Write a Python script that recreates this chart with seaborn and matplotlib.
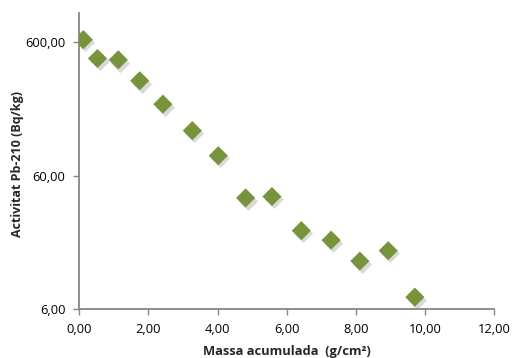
import matplotlib
matplotlib.use("Agg")
import matplotlib.pyplot as plt
import matplotlib.transforms as mtransforms
import seaborn as sns
import pandas as pd

# Data
massa = [0.12, 0.53, 1.13, 1.75, 2.42, 3.27, 4.02, 4.81, 5.57, 6.42, 7.28, 8.11, 8.93, 9.70]
activitat = [630, 455, 445, 310, 207, 131, 85, 41, 42, 23.3, 19.8, 13.8, 16.5, 7.4]

x_ticks = [0, 2, 4, 6, 8, 10, 12]
x_labels = ["0,00", "2,00", "4,00", "6,00", "8,00", "10,00", "12,00"]
y_ticks = [6, 60, 600]
y_labels = ["6,00", "60,00", "600,00"]

df = pd.DataFrame({"massa": massa, "activitat": activitat})

sns.set_style("white")
plt.rcParams["font.family"] = ["Open Sans", "DejaVu Sans"]

fig = plt.figure(figsize=(5.14, 3.58), dpi=100)
ax = fig.add_axes([0.154, 0.136, 0.808, 0.828])

green = "#77933C"
# soft shadow
shadow = mtransforms.offset_copy(ax.transData, fig=fig, x=1.5, y=-2, units="points")
ax.scatter(df["massa"], df["activitat"], marker="D", s=95, color="#555555",
           alpha=0.22, linewidths=0, transform=shadow, zorder=2)
sns.scatterplot(data=df, x="massa", y="activitat", marker="D", s=95,
                color=green, edgecolor="none", linewidth=0, ax=ax, zorder=3)

ax.set_yscale("log")
ax.set_xlim(0, 12)
ax.set_ylim(6, 1000)
ax.set_xticks(x_ticks)
ax.set_xticklabels(x_labels)
ax.set_yticks(y_ticks)
ax.set_yticklabels(y_labels)
ax.yaxis.set_minor_locator(matplotlib.ticker.NullLocator())

for s in ["top", "right"]:
    ax.spines[s].set_visible(False)
for s in ["left", "bottom"]:
    ax.spines[s].set_color("#868686")
    ax.spines[s].set_linewidth(1.3)

ax.tick_params(axis="both", which="major", direction="out", length=4, width=1,
               color="#868686", labelsize=9.3, labelcolor="#000000")
ax.tick_params(axis="y", pad=6)
ax.tick_params(axis="x", pad=6)
ax.tick_params(left=True, bottom=True)

ax.set_xlabel("Massa acumulada  (g/cm²)", fontsize=9.3, fontweight="bold")
ax.set_ylabel("Activitat Pb-210 (Bq/kg)", fontsize=9.0, fontweight="bold")
ax.xaxis.set_label_coords(0.5, -0.12)
ax.yaxis.set_label_coords(-0.132, 0.49)
ax.grid(False)

fig.savefig("out.png", dpi=100)
